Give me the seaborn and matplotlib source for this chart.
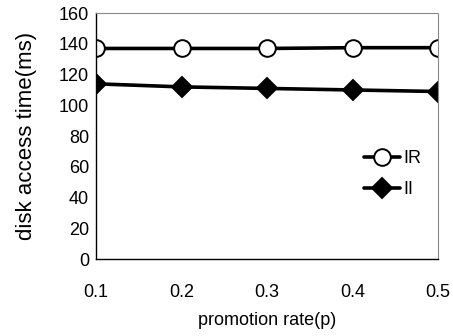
import matplotlib
matplotlib.use("Agg")
import matplotlib.pyplot as plt
import seaborn as sns
import pandas as pd

rates = [0.1, 0.2, 0.3, 0.4, 0.5]
ir_values = [137, 137, 137, 137.5, 137.5]
ii_values = [114, 112, 111, 110, 109]
x_tick_labels = ["0.1", "0.2", "0.3", "0.4", "0.5"]
y_ticks = [0, 20, 40, 60, 80, 100, 120, 140, 160]

sns.set_theme(style="white")
plt.rcParams['font.family'] = ['Liberation Sans', 'DejaVu Sans']

df = pd.DataFrame({
    "rate": rates * 2,
    "time": ir_values + ii_values,
    "series": ["IR"] * len(rates) + ["II"] * len(rates),
})

fig = plt.figure(figsize=(4.53, 3.36), dpi=100)
ax = fig.add_axes([0.212, 0.229, 0.755, 0.732])

sns.lineplot(data=df, x="rate", y="time", hue="series", style="series",
             markers={"IR": "o", "II": "D"}, dashes=False,
             palette={"IR": "black", "II": "black"}, ax=ax, linewidth=2.6,
             markersize=12, markeredgecolor="black", markeredgewidth=1.4)

for line in ax.lines:
    if line.get_marker() == "o":
        line.set_markerfacecolor("white")
    elif line.get_marker() == "D":
        line.set_markersize(10)

ax.set_xlim(0.1, 0.5)
ax.set_ylim(0, 160)
ax.set_xticks(rates)
ax.set_xticklabels(x_tick_labels)
ax.set_yticks(y_ticks)
ax.tick_params(axis="y", length=3, width=0.8, direction="out", labelsize=13, pad=2, color="black")
ax.tick_params(axis="x", length=0, labelsize=13, pad=18)
for lbl in ax.get_xticklabels() + ax.get_yticklabels():
    lbl.set_color("black")

for s in ["left", "bottom"]:
    ax.spines[s].set_color("black")
    ax.spines[s].set_linewidth(1.0)
for s in ["top", "right"]:
    ax.spines[s].set_color("#888888")
    ax.spines[s].set_linewidth(0.8)
    ax.spines[s].set_linestyle((0, (1, 1)))

ax.set_xlabel("promotion rate(p)", fontsize=13, color="black", labelpad=8)
ax.set_ylabel("disk access time(ms)", fontsize=16, color="black", labelpad=16)

handles, labels = ax.get_legend_handles_labels()
leg = ax.legend(handles, labels, loc="upper right", bbox_to_anchor=(1.0, 0.51),
                frameon=False, fontsize=13, handlelength=2.0, handletextpad=0.2,
                labelspacing=0.8)
for t in leg.get_texts():
    t.set_color("black")
for h in leg.legend_handles:
    h.set_linewidth(2.6)

ax.set_facecolor("white")
fig.patch.set_facecolor("white")
fig.savefig("out.png", dpi=100)
